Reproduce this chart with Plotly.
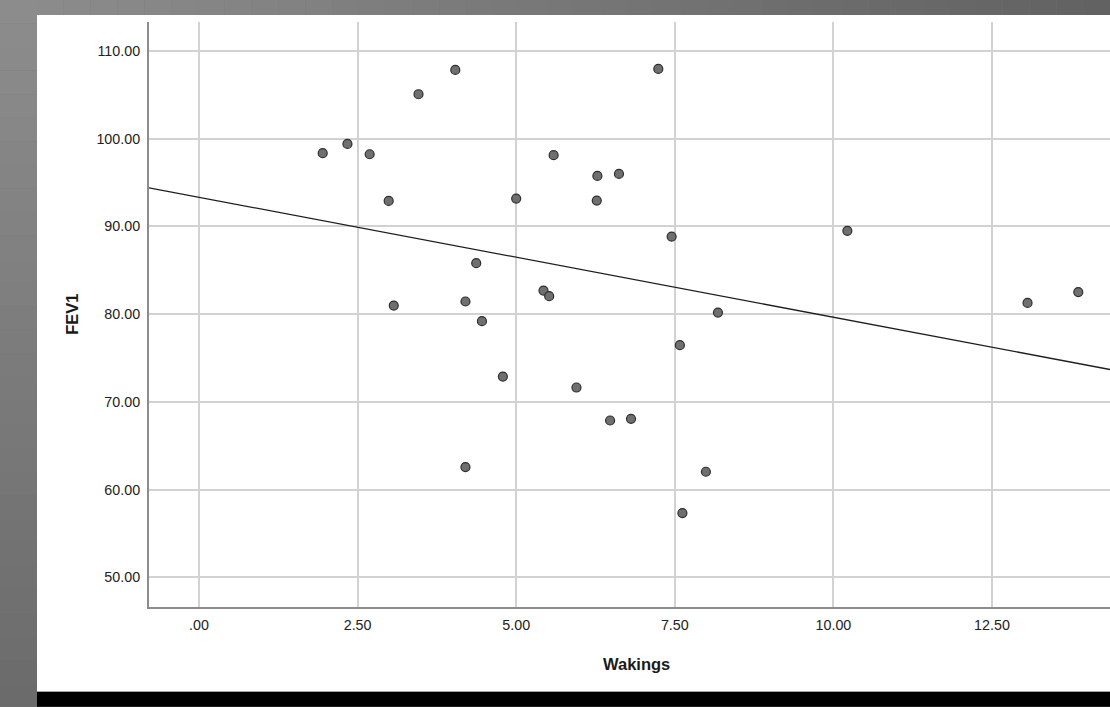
import numpy as np
import plotly.graph_objects as go

# ---- data ----
wakings = [1.95, 2.34, 2.69, 2.99, 3.07, 3.46, 4.04, 4.20, 4.20, 4.37,
           4.46, 4.79, 5.00, 5.43, 5.52, 5.59, 5.95, 6.27, 6.28, 6.48,
           6.62, 6.81, 7.24, 7.45, 7.58, 7.62, 7.99, 8.18, 10.22, 13.06, 13.86]
fev1 = [98.34, 99.40, 98.22, 92.90, 80.98, 105.06, 107.83, 81.44, 62.57, 85.81,
        79.20, 72.89, 93.17, 82.69, 82.05, 98.11, 71.64, 92.94, 95.75, 67.88,
        95.98, 68.07, 107.94, 88.84, 76.47, 57.33, 62.04, 80.18, 89.49, 81.28, 82.51]

x_tickvals = [0, 2.5, 5, 7.5, 10, 12.5]
x_ticktext = [".00", "2.50", "5.00", "7.50", "10.00", "12.50"]
y_tickvals = [50, 60, 70, 80, 90, 100, 110]
y_ticktext = ["50.00", "60.00", "70.00", "80.00", "90.00", "100.00", "110.00"]

x_range = [-0.788, 14.36]
y_range = [46.63, 113.29]

W, H = 1110, 707

# linear fit (total fit line)
slope, intercept = np.polyfit(wakings, fev1, 1)
fit_x = np.array(x_range)
fit_y = intercept + slope * fit_x

fig = go.Figure()
fig.add_trace(go.Scatter(x=fit_x, y=fit_y, mode="lines",
                         line=dict(color="#1e1e1e", width=1.3),
                         hoverinfo="skip", showlegend=False))
fig.add_trace(go.Scatter(x=wakings, y=fev1, mode="markers",
                         marker=dict(size=9, color="#6f6f6f",
                                     line=dict(color="#2e2e2e", width=1.2)),
                         showlegend=False))

# ---- layout in pixel terms ----
plot_l, plot_r, plot_t, plot_b = 149, 1110, 22, 607.3
pw = plot_r - plot_l
ph = plot_b - plot_t

def px2x(px):
    return (px - plot_l) / pw

def py2y(py):
    return (plot_b - py) / ph

def gray(px, py):
    c = 142 - 34 * (py / H) - 44 * (px / W)
    c = int(max(0, min(255, c)))
    return f"rgb({c},{c},{c})"

shapes = []
segs = 30
# left strip (gradient approximation)
for j in range(segs):
    y0 = H * j / segs
    y1 = H * (j + 1) / segs
    shapes.append(dict(type="rect", xref="paper", yref="paper", layer="below",
                       x0=px2x(0), x1=px2x(37), y0=py2y(y1), y1=py2y(y0),
                       fillcolor=gray(18, (y0 + y1) / 2), line=dict(width=0)))
# top strip
for i in range(40):
    x0 = 37 + (W - 37) * i / 40
    x1 = 37 + (W - 37) * (i + 1) / 40
    shapes.append(dict(type="rect", xref="paper", yref="paper", layer="below",
                       x0=px2x(x0), x1=px2x(x1), y0=py2y(15), y1=py2y(0),
                       fillcolor=gray((x0 + x1) / 2, 7), line=dict(width=0)))
# white panel
shapes.append(dict(type="rect", xref="paper", yref="paper", layer="below",
                   x0=px2x(37), x1=px2x(W), y0=py2y(692), y1=py2y(15),
                   fillcolor="white", line=dict(width=0)))
# black bar
shapes.append(dict(type="rect", xref="paper", yref="paper", layer="below",
                   x0=px2x(37), x1=px2x(W), y0=py2y(H), y1=py2y(692),
                   fillcolor="black", line=dict(width=0)))

annotations = [
    dict(text="<b>Wakings</b>", xref="paper", yref="paper",
         x=px2x(636), y=py2y(664), showarrow=False,
         font=dict(family="Liberation Sans, Arial", size=16.5, color="#1a1a1a"),
         xanchor="center", yanchor="middle"),
    dict(text="<b>FEV1</b>", xref="paper", yref="paper",
         x=px2x(72), y=py2y(315), showarrow=False, textangle=-90,
         font=dict(family="Liberation Sans, Arial", size=16.5, color="#1a1a1a"),
         xanchor="center", yanchor="middle"),
]

tick_font = dict(family="Liberation Sans, Arial", size=14.3, color="#222")

fig.update_layout(
    width=W, height=H,
    margin=dict(l=plot_l, r=W - plot_r, t=plot_t, b=H - plot_b),
    paper_bgcolor="rgb(120,120,120)",
    plot_bgcolor="white",
    shapes=shapes,
    annotations=annotations,
    xaxis=dict(range=x_range, tickvals=x_tickvals, ticktext=x_ticktext,
               showgrid=True, gridcolor="#d2d2d2", gridwidth=1.6,
               zeroline=False, showline=True, linecolor="#8c8c8c", linewidth=2,
               ticks="", ticklabelstandoff=4, tickfont=tick_font),
    yaxis=dict(range=y_range, tickvals=y_tickvals, ticktext=y_ticktext,
               showgrid=True, gridcolor="#d2d2d2", gridwidth=1.6,
               zeroline=False, showline=True, linecolor="#8c8c8c", linewidth=2,
               ticks="", ticklabelstandoff=4, tickfont=tick_font),
)

fig.write_html(
    "out.html",
    config={"displayModeBar": False},
    post_script="document.body.style.margin='0';document.body.style.overflow='hidden';",
)
